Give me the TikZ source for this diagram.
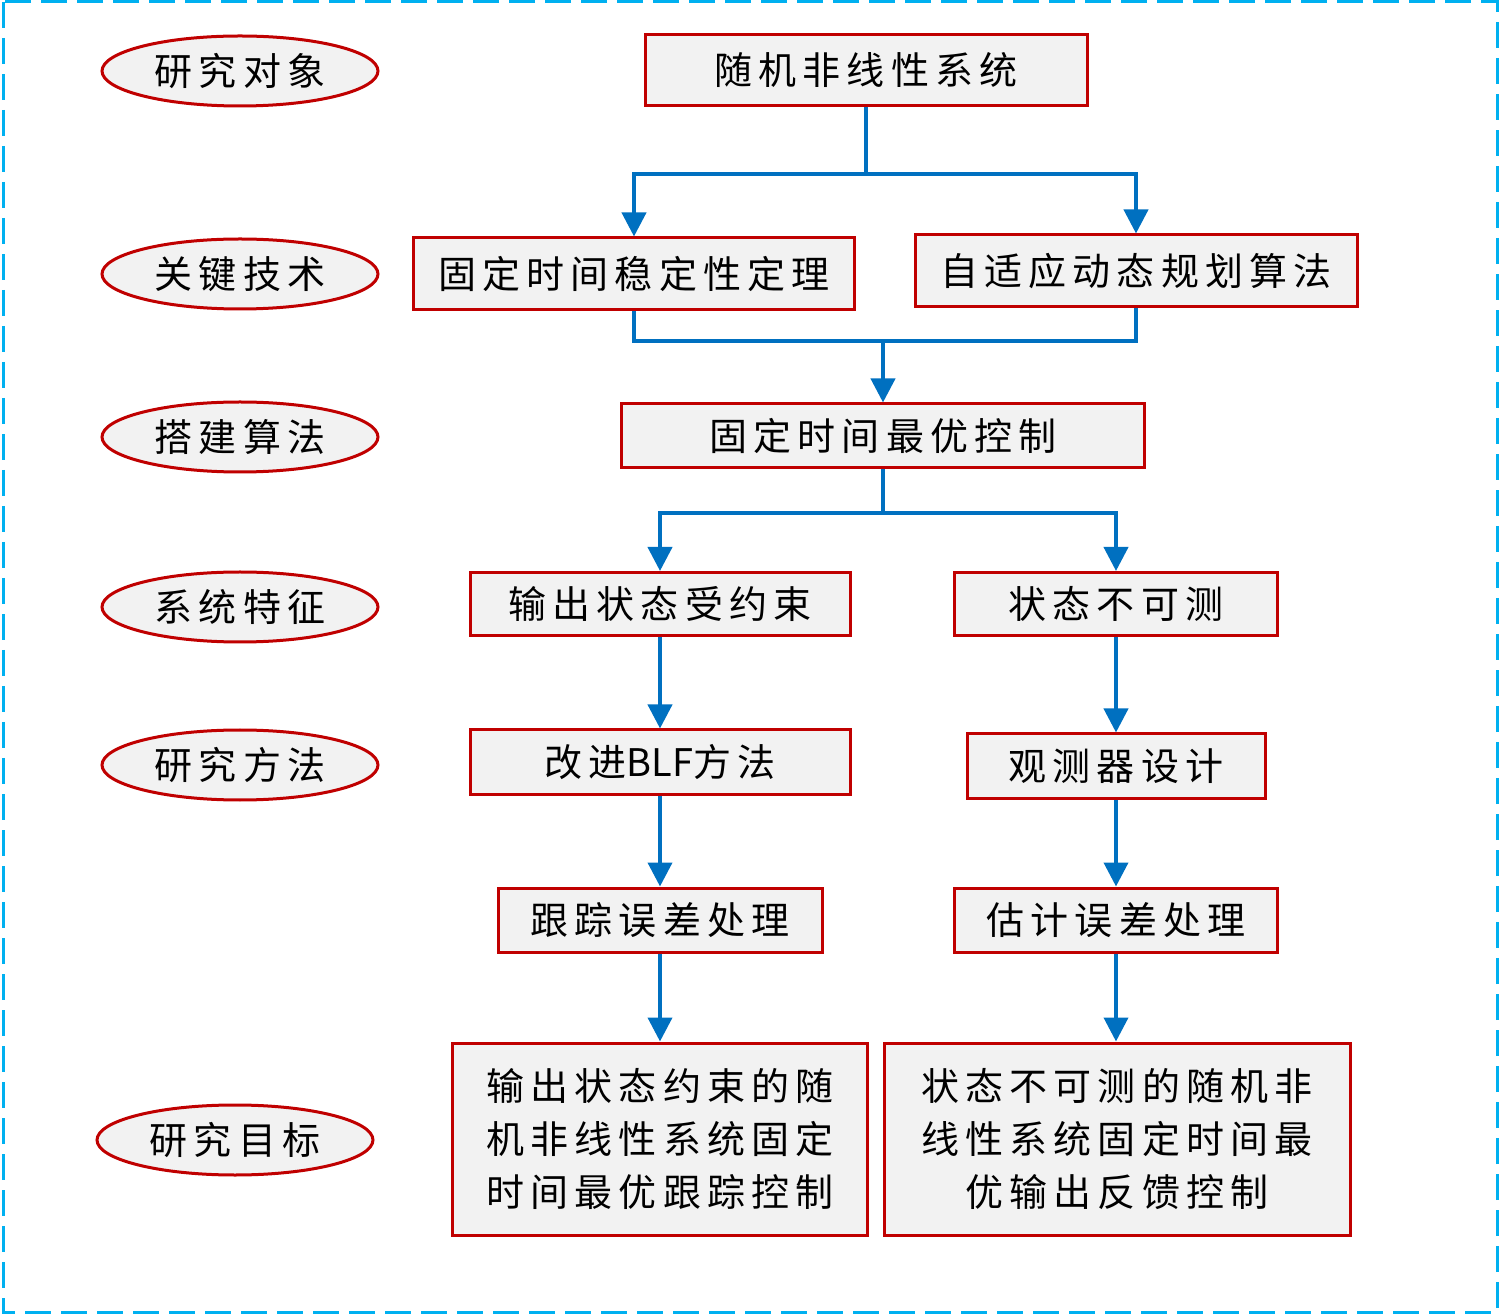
\documentclass[tikz,border=0pt]{standalone}
\usepackage{fontspec}
\setmainfont{Noto Sans CJK SC}[LetterSpace=16]
\usetikzlibrary{arrows.meta,shapes.geometric}
\definecolor{boxred}{RGB}{192,0,0}
\definecolor{boxgray}{RGB}{242,242,242}
\definecolor{lineblue}{RGB}{0,112,192}
\definecolor{framecyan}{RGB}{0,176,240}

\begin{document}
\begin{tikzpicture}[x=0.5pt, y=-0.5pt,
        blk/.style={draw=boxred, fill=boxgray, line width=1.5pt, inner sep=0pt,
                align=center, font=\fontsize{19}{26.5}\selectfont},
        lab/.style={ellipse, draw=boxred, fill=boxgray, line width=1.5pt, inner sep=0pt,
                minimum width=138pt, minimum height=35pt, font=\fontsize{19}{23}\selectfont},
        link/.style={draw=lineblue, line width=2pt},
        arr/.style={link, -{Triangle[width=12pt, length=12pt]}}]
        \useasboundingbox (0,0) rectangle (1500,1315);
        \draw[framecyan, line width=1.5pt, dash pattern=on 13pt off 5pt] (3,2) rectangle (1497,1312);

        % left column
        \node[lab] (obj) at (240,71) {研究对象};
        \node[lab] (key) at (240,274) {关键技术};
        \node[lab] (alg) at (240,437) {搭建算法};
        \node[lab] (fea) at (240,607) {系统特征};
        \node[lab] (met) at (240,765) {研究方法};
        \node[lab] (aim) at (235,1140) {研究目标};

        % flow
        \node[blk, minimum width=221pt, minimum height=35.5pt] (sys) at (866,70) {随机非线性系统};
        \node[blk, minimum width=220.5pt, minimum height=36pt] (fts) at (634,274) {固定时间稳定性定理};
        \node[blk, minimum width=221pt, minimum height=36pt] (adp) at (1136,271) {自适应动态规划算法};
        \node[blk, minimum width=261.5pt, minimum height=32pt] (fto) at (883,436) {固定时间最优控制};
        \node[blk, minimum width=190pt, minimum height=31.5pt] (con) at (660,604) {输出状态受约束};
        \node[blk, minimum width=161.5pt, minimum height=31.5pt] (uno) at (1116,604) {状态不可测};
        \node[blk, minimum width=190pt, minimum height=32pt] (blf) at (660,762)
                {改进{\addfontfeature{LetterSpace=0}BLF}方法};
        \node[blk, minimum width=149pt, minimum height=32pt] (obs) at (1116,766) {观测器设计};
        \node[blk, minimum width=162pt, minimum height=32pt] (tre) at (660,920) {跟踪误差处理};
        \node[blk, minimum width=161.5pt, minimum height=32pt] (ese) at (1116,920) {估计误差处理};
        \node[blk, minimum width=207.5pt, minimum height=96pt] (gla) at (660,1139)
                {输出状态约束的随\\机非线性系统固定\\时间最优跟踪控制};
        \node[blk, minimum width=233pt, minimum height=96pt] (glb) at (1117,1139)
                {状态不可测的随机非\\线性系统固定时间最\\优输出反馈控制};

        % connectors
        \draw[link] (sys.south) -- ++(0,67) coordinate (s1);
        \draw[arr] (s1) -| (fts.north);
        \draw[arr] (s1) -| (adp.north);
        \coordinate (j1) at (883,341);
        \draw[link] (fts.south) |- (j1) -| (adp.south);
        \draw[arr] (j1) -- (fto.north);
        \draw[link] (fto.south) -- ++(0,44) coordinate (j2);
        \draw[arr] (j2) -| (con.north);
        \draw[arr] (j2) -| (uno.north);
        \draw[arr] (con) -- (blf);
        \draw[arr] (blf) -- (tre);
        \draw[arr] (tre) -- (gla);
        \draw[arr] (uno) -- (obs);
        \draw[arr] (obs) -- (ese);
        \draw[arr] (ese) -- (ese |- glb.north);
\end{tikzpicture}
\end{document}
